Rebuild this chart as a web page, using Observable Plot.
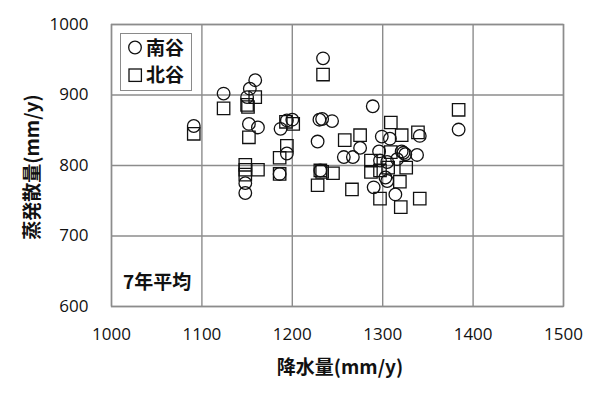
<!DOCTYPE html>
<html><head><meta charset="utf-8">
<script src="https://cdn.jsdelivr.net/npm/d3@7"></script>
<script src="https://cdn.jsdelivr.net/npm/@observablehq/plot@0.6"></script>
<style>
body{margin:0;background:#fff;}
#wrap{position:relative;width:600px;height:395px;overflow:hidden;}
.lbl{position:absolute;font-family:"Noto Sans CJK JP","Noto Sans",sans-serif;font-weight:bold;color:#111;white-space:nowrap;line-height:1;}
#legend{position:absolute;left:120px;top:33px;width:70px;height:56px;border:1.5px solid #8a8a8a;background:#fff;}
</style>
</head><body><div id="wrap"></div>
<script>
const xTicks = [1000, 1100, 1200, 1300, 1400, 1500];
const yTicks = [600, 700, 800, 900, 1000];
const seriesNames = ["南谷", "北谷"];
const xTitle = "降水量(mm/y)";
const yTitle = "蒸発散量(mm/y)";
const note = "7年平均";

// 南谷 (circles)
const minamiX = [1091,1124,1159,1153,1150,1152,1162,1148,1148,1187,1194,1200,1194,1186,1234,1230,1233,1244,1228,1231,1289,1275,1257,1267,1290,1299,1308,1296,1297,1305,1316,1303,1305,1314,1321,1323,1325,1338,1341,1384];
const minamiY = [856,902,921,909,897,859,854,775,761,852,864,865,817,788,952,865,866,863,834,793,884,825,812,812,769,841,838,820,807,805,809,783,778,759,820,818,816,815,842,851];
// 北谷 (squares)
const kitaX = [1091,1124,1159,1150,1151,1152,1148,1148,1148,1162,1186,1186,1194,1193,1201,1234,1228,1231,1233,1245,1258,1275,1266,1287,1287,1297,1297,1309,1309,1306,1321,1339,1326,1319,1320,1341,1384];
const kitaY = [845,881,897,886,883,840,801,794,787,794,811,788,828,862,859,929,772,793,791,789,836,843,766,807,791,793,753,861,819,797,843,847,797,777,741,753,879];

const minami = minamiX.map((x, i) => ({x, y: minamiY[i]}));
const kita = kitaX.map((x, i) => ({x, y: kitaY[i]}));

const grid = "#8c8c8c";
const chart = Plot.plot({
  width: 600, height: 395,
  marginLeft: 111, marginRight: 37, marginTop: 24, marginBottom: 89,
  style: {fontFamily: "'Open Sans', sans-serif", fontSize: "17px", color: "#111", background: "#fff"},
  x: {domain: [1000, 1500], label: null},
  y: {domain: [600, 1000], label: null},
  marks: [
    Plot.gridX(xTicks, {stroke: grid, strokeOpacity: 1, strokeWidth: 1.4}),
    Plot.gridY(yTicks, {stroke: grid, strokeOpacity: 1, strokeWidth: 1.4}),
    Plot.frame({stroke: grid, strokeWidth: 1.4}),
    Plot.axisX({ticks: xTicks, tickFormat: d => String(d), tickSize: 0, tickPadding: 21, label: null, fontSize: 17}),
    Plot.axisY({ticks: yTicks, tickFormat: d => String(d), tickSize: 0, tickPadding: 23, label: null, fontSize: 17}),
    Plot.dot(kita, {x: "x", y: "y", symbol: "square", r: 7, stroke: "#111", strokeWidth: 1.3, fill: "none"}),
    Plot.dot(minami, {x: "x", y: "y", r: 6.3, stroke: "#111", strokeWidth: 1.3, fill: "none"})
  ]
});
const wrap = document.getElementById("wrap");
wrap.appendChild(chart);

function addLabel(text, left, top, size, extra) {
  const d = document.createElement("div");
  d.className = "lbl";
  d.textContent = text;
  d.style.left = left + "px";
  d.style.top = top + "px";
  d.style.fontSize = size + "px";
  d.style.transform = extra || "translate(-50%,-50%)";
  wrap.appendChild(d);
  return d;
}
addLabel(xTitle, 340, 365, 19);
addLabel(yTitle, 30, 167, 19, "translate(-50%,-50%) rotate(-90deg)");
addLabel(note, 123, 280, 19, "translate(0,-50%)");

// legend
const lg = document.createElement("div");
lg.id = "legend";
lg.innerHTML = `
<svg width="70" height="56" style="position:absolute;left:0;top:0">
  <circle cx="14" cy="13.5" r="6.3" fill="none" stroke="#111" stroke-width="1.3"/>
  <rect x="8" y="35" width="12.4" height="12.4" fill="none" stroke="#111" stroke-width="1.3"/>
</svg>`;
wrap.appendChild(lg);
addLabel(seriesNames[0], 146, 46, 19, "translate(0,-50%)");
addLabel(seriesNames[1], 146, 73, 19, "translate(0,-50%)");
</script>
</body></html>
